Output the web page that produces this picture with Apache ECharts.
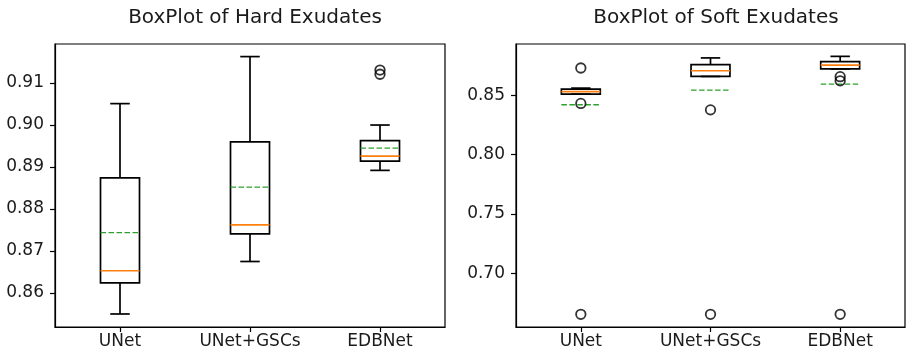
<!DOCTYPE html>
<html>
<head>
<meta charset="utf-8">
<script src="https://cdn.jsdelivr.net/npm/echarts@6/dist/echarts.min.js"></script>
<style>
html,body{margin:0;padding:0;background:#fff;}
#chart{width:906px;height:358px;}
</style>
</head>
<body>
<div id="chart"></div>
<script>
// ---- data ----
const categories = ['UNet', 'UNet+GSCs', 'EDBNet'];

// [lower whisker, Q1, median, Q3, upper whisker]
const hardStats = [
  [0.8550, 0.8624, 0.8653, 0.8874, 0.9051],
  [0.8675, 0.8741, 0.8762, 0.8960, 0.9163],
  [0.8892, 0.8914, 0.8926, 0.8963, 0.9000]
];
const hardMeans = [0.8744, 0.8852, 0.8945];
const hardOutliers = [[2, 0.9131], [2, 0.9121]];

const softStats = [
  [0.8508, 0.8508, 0.8530, 0.8551, 0.8559],
  [0.8657, 0.8657, 0.8705, 0.8756, 0.8813],
  [0.8720, 0.8720, 0.8753, 0.8781, 0.8826]
];
const softMeans = [0.8419, 0.8542, 0.8592];
const softOutliers = [
  [0, 0.8728], [0, 0.8430], [0, 0.6657],
  [1, 0.8376], [1, 0.6657],
  [2, 0.8655], [2, 0.8620], [2, 0.6657]
];

const hardTicks = [0.86, 0.87, 0.88, 0.89, 0.90, 0.91];
const softTicks = [0.70, 0.75, 0.80, 0.85];
const hardRange = [0.8519, 0.9193];
const softRange = [0.6550, 0.8930];

const titles = ['BoxPlot of Hard Exudates', 'BoxPlot of Soft Exudates'];

// ---- build ----
const FONT = 'DejaVu Sans';
const TEXT = '#1a1a1a';

function boxData(stats, means) {
  return stats.map((s, i) => [i, s[0], s[1], s[2], s[3], s[4], means[i]]);
}

function renderBox(params, api) {
  const idx = api.value(0);
  const pMin = api.coord([idx, api.value(1)]);
  const pQ1 = api.coord([idx, api.value(2)]);
  const pMed = api.coord([idx, api.value(3)]);
  const pQ3 = api.coord([idx, api.value(4)]);
  const pMax = api.coord([idx, api.value(5)]);
  const pMean = api.coord([idx, api.value(6)]);
  const band = api.size([1, 0])[0];
  const bw = band * 0.3;
  const cw = bw / 2;
  const x = pMed[0];
  const black = {stroke: '#000', lineWidth: 1.7, fill: null};
  return {
    type: 'group',
    children: [
      {type: 'line', shape: {x1: x, y1: pQ3[1], x2: x, y2: pMax[1]}, style: black},
      {type: 'line', shape: {x1: x - cw / 2, y1: pMax[1], x2: x + cw / 2, y2: pMax[1]}, style: black},
      {type: 'line', shape: {x1: x, y1: pQ1[1], x2: x, y2: pMin[1]}, style: black},
      {type: 'line', shape: {x1: x - cw / 2, y1: pMin[1], x2: x + cw / 2, y2: pMin[1]}, style: black},
      {type: 'rect', shape: {x: x - bw / 2, y: pQ3[1], width: bw, height: pQ1[1] - pQ3[1]},
        style: {stroke: '#000', lineWidth: 1.7, fill: 'rgba(0,0,0,0)'}},
      {type: 'line', shape: {x1: x - bw / 2, y1: pMed[1], x2: x + bw / 2, y2: pMed[1]},
        style: {stroke: '#ff7f0e', lineWidth: 1.7}},
      {type: 'line', shape: {x1: x - bw / 2, y1: pMean[1], x2: x + bw / 2, y2: pMean[1]},
        style: {stroke: '#2ca02c', lineWidth: 1.3, lineDash: [5.5, 2.5]}}
    ]
  };
}

function xAxisFor(gi) {
  return {
    type: 'category', gridIndex: gi, data: categories, boundaryGap: true,
    axisLine: {show: true, lineStyle: {color: '#000', width: 1.2}},
    axisTick: {show: true, alignWithLabel: true, length: 5, lineStyle: {color: '#000', width: 1.2}},
    axisLabel: {fontFamily: FONT, fontSize: 17, color: TEXT, margin: 6, interval: 0},
    splitLine: {show: false}
  };
}
function yAxisFor(gi, range, ticks) {
  return {
    type: 'value', gridIndex: gi, min: range[0], max: range[1], scale: true,
    axisLine: {show: true, lineStyle: {color: '#000', width: 1.2}},
    axisTick: {show: true, length: 5, lineStyle: {color: '#000', width: 1.2}, customValues: ticks},
    axisLabel: {fontFamily: FONT, fontSize: 17, color: TEXT, margin: 11, customValues: ticks,
      formatter: v => Number(v).toFixed(2)},
    splitLine: {show: false}
  };
}

const option = {
  animation: false,
  backgroundColor: '#fff',
  title: [
    {text: titles[0], left: 250, top: 3, textAlign: 'center',
      textStyle: {fontFamily: FONT, fontSize: 20, fontWeight: 'normal', color: TEXT}},
    {text: titles[1], left: 711, top: 3, textAlign: 'center',
      textStyle: {fontFamily: FONT, fontSize: 20, fontWeight: 'normal', color: TEXT}}
  ],
  grid: [
    {left: 55, top: 44, width: 390, height: 283, show: true, borderColor: '#000', borderWidth: 1.2, backgroundColor: 'rgba(0,0,0,0)'},
    {left: 516, top: 44, width: 389, height: 283, show: true, borderColor: '#000', borderWidth: 1.2, backgroundColor: 'rgba(0,0,0,0)'}
  ],
  xAxis: [xAxisFor(0), xAxisFor(1)],
  yAxis: [yAxisFor(0, hardRange, hardTicks), yAxisFor(1, softRange, softTicks)],
  series: [
    {type: 'custom', xAxisIndex: 0, yAxisIndex: 0, data: boxData(hardStats, hardMeans),
      renderItem: renderBox, encode: {x: 0, y: [1, 2, 3, 4, 5, 6]}},
    {type: 'custom', xAxisIndex: 1, yAxisIndex: 1, data: boxData(softStats, softMeans),
      renderItem: renderBox, encode: {x: 0, y: [1, 2, 3, 4, 5, 6]}},
    {type: 'scatter', xAxisIndex: 0, yAxisIndex: 0, data: hardOutliers, symbol: 'circle', symbolSize: 9.5,
      itemStyle: {color: 'rgba(0,0,0,0)', borderColor: '#000', borderWidth: 1.8}},
    {type: 'scatter', xAxisIndex: 1, yAxisIndex: 1, data: softOutliers, symbol: 'circle', symbolSize: 9.5,
      itemStyle: {color: 'rgba(0,0,0,0)', borderColor: '#000', borderWidth: 1.8}}
  ]
};

const chart = echarts.init(document.getElementById('chart'), null, {renderer: 'canvas'});
chart.setOption(option);
</script>
</body>
</html>
